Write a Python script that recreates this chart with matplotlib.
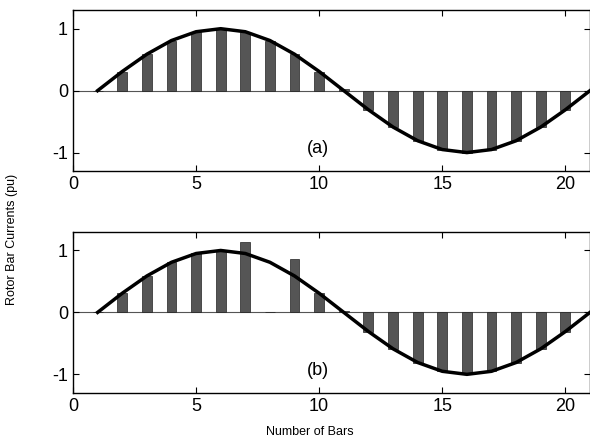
import matplotlib
matplotlib.use('Agg')
import matplotlib.pyplot as plt
import numpy as np

plt.rcParams['font.family'] = ['Liberation Sans', 'DejaVu Sans']
plt.rcParams['axes.unicode_minus'] = False

# bar numbers and per-bar currents (pu)
bar_no = np.arange(1, 21)
healthy = [0.0, 0.309, 0.588, 0.809, 0.951, 1.0, 0.951, 0.809, 0.588, 0.309,
           0.02, -0.309, -0.588, -0.809, -0.951, -1.0, -0.951, -0.809, -0.588, -0.309]
broken = [0.0, 0.309, 0.588, 0.809, 0.951, 1.0, 1.14, 0.0, 0.87, 0.309,
          0.02, -0.309, -0.588, -0.809, -0.951, -1.0, -0.951, -0.809, -0.588, -0.309]

# ideal sinusoidal distribution
curve_x = np.arange(1, 22)
curve_y = [0.0, 0.309, 0.588, 0.809, 0.951, 1.0, 0.951, 0.809, 0.588, 0.309, 0.0,
           -0.309, -0.588, -0.809, -0.951, -1.0, -0.951, -0.809, -0.588, -0.309, 0.0]

fig = plt.figure(figsize=(5.9, 4.4), dpi=100)
ax1 = fig.add_axes([0.1237, 0.611, 0.8763, 0.366])
ax2 = fig.add_axes([0.1237, 0.107, 0.8763, 0.366])

for ax, vals, tag in [(ax1, healthy, '(a)'), (ax2, broken, '(b)')]:
    ax.axhline(0, color='#555555', lw=0.8, zorder=1)
    ax.bar(bar_no, vals, width=0.4, color='#555555', edgecolor='#222222',
           linewidth=0.5, zorder=2)
    ax.plot(curve_x, curve_y, color='black', lw=2.5, zorder=3)
    ax.set_xlim(0, 21)
    ax.set_ylim(-1.3, 1.3)
    ax.set_xticks([0, 5, 10, 15, 20])
    ax.set_yticks([-1, 0, 1])
    ax.tick_params(direction='in', top=True, right=True, length=4,
                   labelsize=13, width=0.8)
    for s in ax.spines.values():
        s.set_linewidth(1.0)
    ax.text(9.95, -0.93, tag, fontsize=13, ha='center', va='center')

fig.text(0.02, 0.455, 'Rotor Bar Currents (pu)', rotation=90, fontsize=9,
         ha='center', va='center')
fig.text(0.525, 0.018, 'Number of Bars', fontsize=9, ha='center', va='center')

fig.savefig('out.png', dpi=100)
